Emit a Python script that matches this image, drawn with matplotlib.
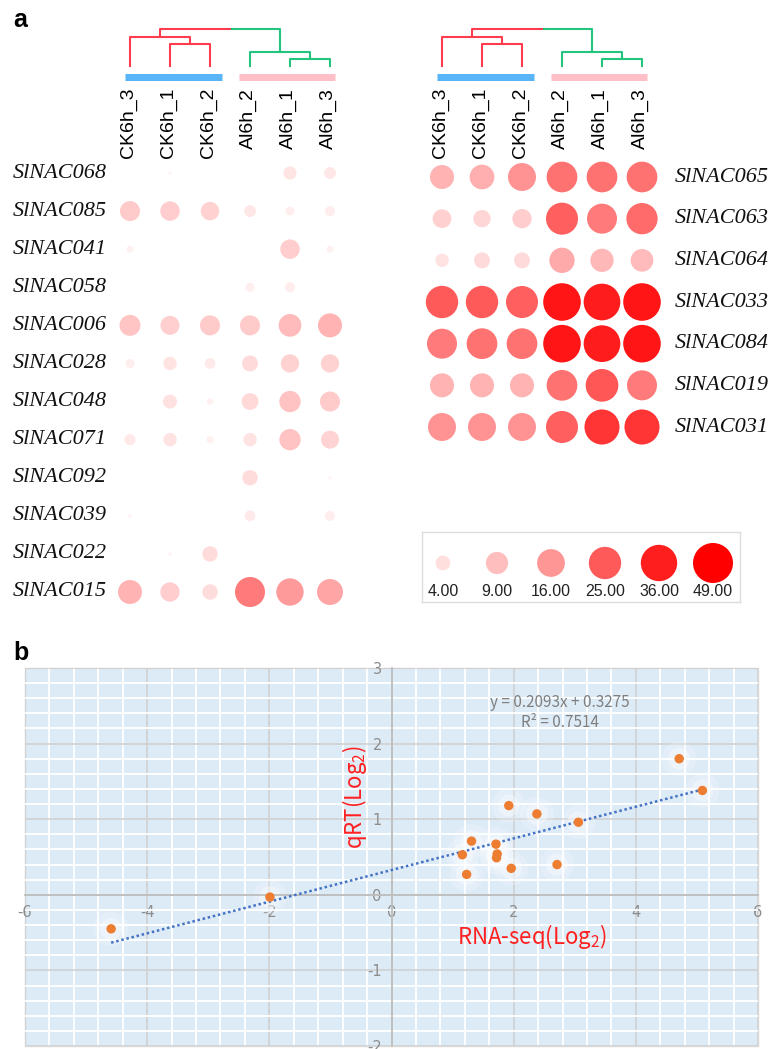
import numpy as np
import matplotlib
matplotlib.use('Agg')
import matplotlib.pyplot as plt
from matplotlib.transforms import blended_transform_factory
from matplotlib.ticker import MultipleLocator
from matplotlib.patches import Rectangle

plt.rcParams['axes.unicode_minus'] = False

# ---------------- data ----------------
samples = ['CK6h_3', 'CK6h_1', 'CK6h_2', 'Al6h_2', 'Al6h_1', 'Al6h_3']

genes_left = ['SlNAC068', 'SlNAC085', 'SlNAC041', 'SlNAC058', 'SlNAC006', 'SlNAC028',
              'SlNAC048', 'SlNAC071', 'SlNAC092', 'SlNAC039', 'SlNAC022', 'SlNAC015']
expr_left = [
    [0.0, 1.6, 0.0, 0.0, 3.4, 3.0],
    [7.1, 6.7, 6.0, 3.0, 2.3, 2.5],
    [1.95, 0.0, 0.0, 0.0, 6.7, 1.95],
    [0.0, 0.0, 0.0, 2.3, 2.5, 1.5],
    [7.9, 6.4, 7.1, 7.1, 9.5, 10.9],
    [2.3, 3.5, 2.7, 4.6, 5.9, 5.9],
    [0.0, 3.7, 1.9, 5.0, 8.2, 7.1],
    [2.8, 3.5, 2.0, 3.5, 8.2, 5.7],
    [0.0, 0.0, 0.0, 4.3, 0.0, 1.6],
    [1.6, 0.0, 0.0, 2.7, 0.0, 2.5],
    [0.0, 1.6, 4.3, 0.0, 0.0, 0.0],
    [10.9, 6.6, 4.3, 20.0, 15.3, 13.4],
]

genes_right = ['SlNAC065', 'SlNAC063', 'SlNAC064', 'SlNAC033', 'SlNAC084', 'SlNAC019', 'SlNAC031']
expr_right = [
    [10.9, 11.7, 16.4, 21.4, 21.4, 21.4],
    [6.2, 5.3, 6.6, 24.2, 20.0, 22.6],
    [3.5, 4.6, 4.6, 12.5, 10.1, 9.5],
    [25.0, 25.0, 24.2, 40.0, 37.0, 40.0],
    [20.0, 21.4, 21.4, 40.0, 37.0, 40.0],
    [10.9, 10.9, 10.9, 21.4, 25.8, 20.0],
    [16.4, 16.4, 16.4, 24.2, 32.0, 32.0],
]

legend_values = [4.0, 9.0, 16.0, 25.0, 36.0, 49.0]

# dendrogram merge heights (same tree for both panels)
ck_inner_h, ck_outer_h = 3.1, 4.1
al_inner_h, al_outer_h = 1.0, 2.0
root_h = 5.3

# RT-qPCR vs RNA-seq
rna_seq = [-4.59, -1.99, 1.16, 1.23, 1.31, 1.71, 1.72, 1.73, 1.92, 1.96, 2.38, 2.71, 3.06, 4.71, 5.09]
qrt = [-0.45, -0.03, 0.53, 0.27, 0.71, 0.67, 0.49, 0.54, 1.18, 0.35, 1.07, 0.40, 0.96, 1.80, 1.38]
fit_slope, fit_intercept, fit_r2 = 0.2093, 0.3275, 0.7514

# ---------------- figure ----------------
W, H = 773, 1049
fig = plt.figure(figsize=(W / 100, H / 100), dpi=100)


def px_axes(left, top, right, bottom):
    return fig.add_axes([left / W, 1 - bottom / H, (right - left) / W, (bottom - top) / H])


# value -> bubble size / colour
def bubble_size(v):
    v = np.asarray(v, dtype=float)
    d2 = np.clip(277 * np.sqrt(v) - 338, 0, None)  # px^2
    d2[v <= 0] = 0
    return d2 * 0.72 ** 2


col_anchor_v = [1.5, 4, 9, 16, 25, 36, 49]
col_anchor_gb = [245, 222, 190, 150, 90, 30, 0]


def bubble_color(v):
    v = np.asarray(v, dtype=float)
    gb = np.interp(v, col_anchor_v, col_anchor_gb) / 255.0
    return np.column_stack([np.ones_like(gb), gb, gb])


RED = '#FF3B4E'
GREEN = '#22C47E'
BLUE_BAR = '#5AB4F8'
PINK_BAR = '#FFBFC9'
DPX = 7.0  # pixels per dendrogram height unit


def draw_dendro(ax):
    lw = 1.5
    # CK cluster
    ax.plot([1, 1, 2, 2], [0, ck_inner_h, ck_inner_h, 0], color=RED, lw=lw)
    ck_mid_in = 1.5
    ax.plot([0, 0, ck_mid_in, ck_mid_in], [0, ck_outer_h, ck_outer_h, ck_inner_h], color=RED, lw=lw)
    ck_mid = (0 + ck_mid_in) / 2
    # Al cluster
    ax.plot([4, 4, 5, 5], [0, al_inner_h, al_inner_h, 0], color=GREEN, lw=lw)
    al_mid_in = 4.5
    ax.plot([3, 3, al_mid_in, al_mid_in], [0, al_outer_h, al_outer_h, al_inner_h], color=GREEN, lw=lw)
    al_mid = (3 + al_mid_in) / 2
    split = 2.55
    ax.plot([ck_mid, ck_mid, split], [ck_outer_h, root_h, root_h], color=RED, lw=lw)
    ax.plot([split, al_mid, al_mid], [root_h, root_h, al_outer_h], color=GREEN, lw=lw)
    # group bars
    yb = -(77 - 66) / DPX
    ax.plot([-0.13, 2.3], [yb, yb], color=BLUE_BAR, lw=7 * 0.72, solid_capstyle='butt')
    ax.plot([2.73, 5.13], [yb, yb], color=PINK_BAR, lw=7 * 0.72, solid_capstyle='butt')
    # sample labels
    yl = -(88 - 66) / DPX
    for i, s in enumerate(samples):
        ax.text(i - 0.05, yl, s, rotation=90, ha='center', va='top', fontsize=14,
                family='Liberation Sans', color='black')
    ax.set_xlim(-0.5, 5.5)
    ax.set_ylim(-(100 - 66) / DPX, (66 - 20) / DPX)
    ax.axis('off')


def draw_bubbles(ax, genes, expr, label_x_px):
    vals = np.array(expr, dtype=float)
    nr, nc = vals.shape
    xx, yy = np.meshgrid(np.arange(nc), np.arange(nr))
    ax.scatter(xx.ravel(), yy.ravel(), s=bubble_size(vals.ravel()),
               c=bubble_color(vals.ravel()), edgecolors='none')
    ax.set_xlim(-0.5, nc - 0.5)
    ax.set_ylim(nr - 0.5, -0.5)
    ax.axis('off')
    tr = blended_transform_factory(fig.transFigure, ax.transData)
    for i, g in enumerate(genes):
        ax.text(label_x_px / W, i, g, transform=tr, ha='left', va='center',
                fontsize=16, style='italic', family='Liberation Serif', color='#111111')


# left panel
row_l = (592 - 173) / 11
ax_dl = px_axes(110, 20, 350, 100)
draw_dendro(ax_dl)
ax_bl = px_axes(110, 173 - row_l / 2, 350, 592 + row_l / 2)
draw_bubbles(ax_bl, genes_left, expr_left, 13)

# right panel
row_r = (427 - 177) / 6
ax_dr = px_axes(422, 20, 662, 100)
draw_dendro(ax_dr)
ax_br = px_axes(422, 177 - row_r / 2, 662, 427 + row_r / 2)
draw_bubbles(ax_br, genes_right, expr_right, 675)

# size legend
ax_lg = px_axes(422, 532, 740, 602)
lx = np.arange(len(legend_values))
ax_lg.scatter(lx, np.full(len(lx), 31), s=bubble_size(legend_values),
              c=bubble_color(legend_values), edgecolors='none')
for i, v in enumerate(legend_values):
    ax_lg.text(i, 59, f'{v:.2f}', ha='center', va='center', fontsize=11.5,
               family='Liberation Sans', color='#222222')
ax_lg.set_xlim(-21 / 54, 297 / 54)
ax_lg.set_ylim(70, 0)
ax_lg.set_xticks([])
ax_lg.set_yticks([])
for sp in ax_lg.spines.values():
    sp.set_color('#DDDDDD')
    sp.set_linewidth(1)

fig.text(13 / W, 1 - 20 / H, 'a', ha='left', va='center', fontsize=18,
         fontweight='bold', family='Liberation Sans')
fig.text(13 / W, 1 - 653 / H, 'b', ha='left', va='center', fontsize=18,
         fontweight='bold', family='Liberation Sans')

# ---------------- panel b ----------------
axb = px_axes(25, 668, 758, 1046)
axb.set_facecolor('#DDEBF7')
axb.set_xlim(-6, 6)
axb.set_ylim(-2, 3)
axb.xaxis.set_major_locator(MultipleLocator(2))
axb.yaxis.set_major_locator(MultipleLocator(1))
axb.xaxis.set_minor_locator(MultipleLocator(0.4))
axb.yaxis.set_minor_locator(MultipleLocator(0.2))
axb.set_axisbelow(True)
axb.grid(which='minor', color='white', lw=1.3)
axb.grid(which='major', color='#CFCFCF', lw=1.1)
axb.tick_params(which='both', length=0)
axb.tick_params(which='major', labelsize=10.5, labelcolor='#8C8C8C', pad=7)
for lab in axb.get_xticklabels() + axb.get_yticklabels():
    lab.set_family('Noto Sans CJK SC')
axb.spines['left'].set_position(('data', 0))
axb.spines['bottom'].set_position(('data', 0))
for k in ('left', 'bottom'):
    axb.spines[k].set_color('#BEBEBE')
    axb.spines[k].set_linewidth(1.3)
axb.spines['top'].set_visible(False)
axb.spines['right'].set_visible(False)
axb.add_patch(Rectangle((0, 0), 1, 1, transform=axb.transAxes, fill=False,
                        ec='#D9D9D9', lw=1, clip_on=False, zorder=0.5))

# glow + points
axb.scatter(rna_seq, qrt, s=600, color='white', alpha=0.2, edgecolors='none', zorder=2)
axb.scatter(rna_seq, qrt, s=250, color='white', alpha=0.35, edgecolors='none', zorder=2)
axb.scatter(rna_seq, qrt, s=46, color='#ED7D31', edgecolors='none', zorder=4)

xf = np.array([min(rna_seq), max(rna_seq)])
axb.plot(xf, fit_slope * xf + fit_intercept, color='#4472C4', lw=1.8,
         linestyle=(0, (1, 1.1)), zorder=3)

axb.text(0.730, 0.910, f'y = {fit_slope:.4f}x + {fit_intercept:.4f}', transform=axb.transAxes,
         ha='center', va='center', fontsize=11, color='#7F7F7F', family='Noto Sans CJK SC')
axb.text(0.730, 0.857, f'R² = {fit_r2:.4f}', transform=axb.transAxes,
         ha='center', va='center', fontsize=11, color='#7F7F7F', family='Noto Sans CJK SC')

axb.text(0.450, 0.659, r'qRT(Log$_\mathregular{2}$)', transform=axb.transAxes, rotation=90,
         ha='center', va='center', fontsize=16, color='#FF2020', family='Noto Sans CJK SC')
axb.text(0.692, 0.291, r'RNA-seq(Log$_\mathregular{2}$)', transform=axb.transAxes,
         ha='center', va='center', fontsize=16, color='#FF2020', family='Noto Sans CJK SC')

fig.savefig('out.png', dpi=100)
